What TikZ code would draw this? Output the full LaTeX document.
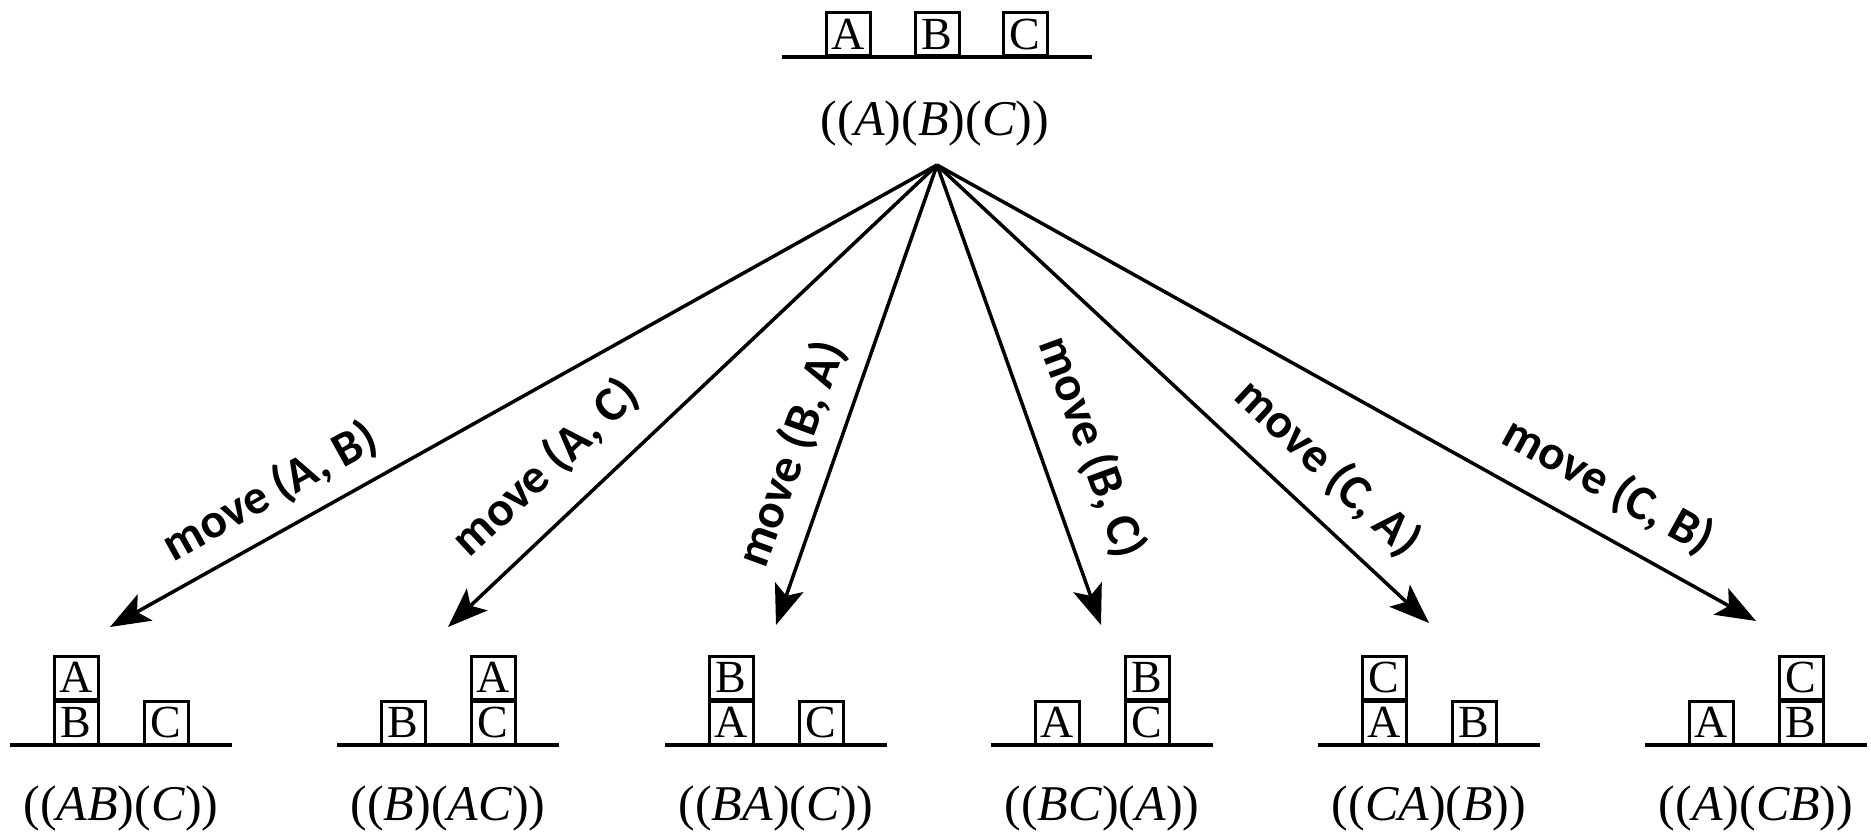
\documentclass[tikz,border=0pt]{standalone}
\usepackage{fontspec}
\setmainfont{Liberation Serif}
\newfontfamily\lblfont{Carlito}
\usetikzlibrary{arrows.meta}
\begin{document}
\begin{tikzpicture}[x=1pt,y=-1pt,
  blk/.style={draw, line width=3pt, minimum width=44pt, minimum height=43pt, inner sep=0pt, font=\fontsize{46}{46}\selectfont},
  ground/.style={line width=4pt},
  statelbl/.style={font=\fontsize{50}{60}\selectfont, inner sep=0pt},
  movelbl/.style={font=\lblfont\fontsize{49}{60}\selectfont\bfseries, inner sep=0pt},
  mv/.style={line width=3.5pt, -{Stealth[length=40pt,width=30pt,inset=9pt]}}]
\useasboundingbox (0,0) rectangle (1871,834);
% top state
\draw[ground] (782,57) -- (1092,57);
\node[blk] (tA) at (848,34.5) {A};
\node[blk] (tB) at (937,34.5) {B};
\node[blk] (tC) at (1025,34.5) {C};
\node[statelbl] (tl) at (935,123) {((\textit{A})(\textit{B})(\textit{C}))};
\coordinate (root) at (937,165);
% state 1
\draw[ground] (10,745) -- (232,745);
\node[blk] (s1a) at (76,677.5) {A};
\node[blk] (s1b) at (76,722.5) {B};
\node[blk] (s1c) at (166,722.5) {C};
\node[statelbl] (l1) at (121,808) {((\textit{AB})(\textit{C}))};
% state 2
\draw[ground] (337,745) -- (559,745);
\node[blk] (s2b) at (403,722.5) {B};
\node[blk] (s2a) at (493,677.5) {A};
\node[blk] (s2c) at (493,722.5) {C};
\node[statelbl] (l2) at (448,808) {((\textit{B})(\textit{AC}))};
% state 3
\draw[ground] (665,745) -- (887,745);
\node[blk] (s3b) at (731,677.5) {B};
\node[blk] (s3a) at (731,722.5) {A};
\node[blk] (s3c) at (821,722.5) {C};
\node[statelbl] (l3) at (776,808) {((\textit{BA})(\textit{C}))};
% state 4
\draw[ground] (991,745) -- (1213,745);
\node[blk] (s4a) at (1057,722.5) {A};
\node[blk] (s4b) at (1147,677.5) {B};
\node[blk] (s4c) at (1147,722.5) {C};
\node[statelbl] (l4) at (1102,808) {((\textit{BC})(\textit{A}))};
% state 5
\draw[ground] (1318,745) -- (1540,745);
\node[blk] (s5c) at (1384,677.5) {C};
\node[blk] (s5a) at (1384,722.5) {A};
\node[blk] (s5b) at (1474,722.5) {B};
\node[statelbl] (l5) at (1429,808) {((\textit{CA})(\textit{B}))};
% state 6
\draw[ground] (1645,745) -- (1867,745);
\node[blk] (s6a) at (1711,722.5) {A};
\node[blk] (s6c) at (1801,677.5) {C};
\node[blk] (s6b) at (1801,722.5) {B};
\node[statelbl] (l6) at (1756,808) {((\textit{A})(\textit{CB}))};
% arrow tips
\coordinate (t1) at (110,627);
\coordinate (t2) at (448,627);
\coordinate (t3) at (776,625);
\coordinate (t4) at (1101,625);
\coordinate (t5) at (1429,623);
\coordinate (t6) at (1756,621);
\foreach \t in {t1,t2,t3,t4,t5,t6} \draw[mv] (root) -- (\t);
% move labels
\node[movelbl, rotate=29] (m1) at (270,492) {move (A, B)};
\node[movelbl, rotate=43] (m2) at (546,468) {move (A, C)};
\node[movelbl, rotate=70] (m3) at (792,454) {move (B, A)};
\node[movelbl, rotate=-70] (m4) at (1092,447) {move (B, C)};
\node[movelbl, rotate=-43] (m5) at (1328,468) {move (C, A)};
\node[movelbl, rotate=-29] (m6) at (1608,486) {move (C, B)};
\end{tikzpicture}
\end{document}
